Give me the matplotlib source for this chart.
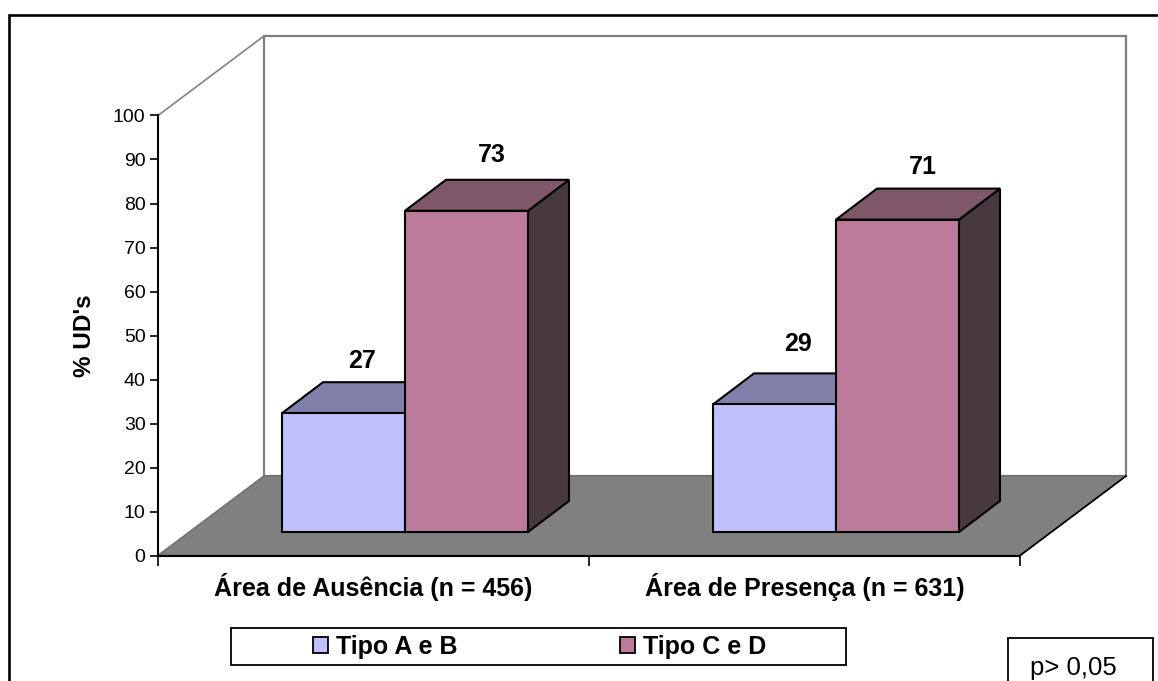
import matplotlib
matplotlib.use('Agg')
import matplotlib.pyplot as plt
from matplotlib.lines import Line2D
from matplotlib.patches import Polygon, Rectangle

plt.rcParams['font.family'] = ['Liberation Sans', 'DejaVu Sans']

categorias = ['Área de Ausência (n = 456)', 'Área de Presença (n = 631)']
tipo_ab = [27, 29]
tipo_cd = [73, 71]
nomes_series = ['Tipo A e B', 'Tipo C e D']
y_ticks = list(range(0, 101, 10))

W, H = 1158, 681
# pixel geometry of the plot box
X0, X1 = 158, 1020
Y0, Y100 = 555.5, 115.5
PX_X = (X1 - X0) / 2
PX_Y = (Y0 - Y100) / 100

# depth of the floor and of the bars, in data units
DX = 106 / PX_X
DY = 79.5 / PX_Y
BAR_DX0 = 31.5 / PX_X
BAR_DY0 = 23.5 / PX_Y
BAR_DX = 41 / PX_X
BAR_DY = 31 / PX_Y
BAR_W = 123 / PX_X
BAR_START = 0.2146

cores_ab = ('#C0C0FF', '#8080AA', '#50506A')
cores_cd = ('#BD7B9B', '#7E5869', '#483840')
CINZA = '#808080'

fig = plt.figure(figsize=(W / 100, H / 100), dpi=100)
ax = fig.add_axes([X0 / W, 1 - Y0 / H, (X1 - X0) / W, (Y0 - Y100) / H])
ax.set_xlim(0, 2)
ax.set_ylim(0, 100)
ax.patch.set_visible(False)


def poly(pts, fc, ec, lw=1.5, z=2):
    ax.add_patch(Polygon(pts, closed=True, facecolor=fc, edgecolor=ec, lw=lw,
                         zorder=z, clip_on=False, joinstyle='miter'))


# back wall, side wall and floor
poly([(DX, DY), (2 + DX, DY), (2 + DX, 100 + DY), (DX, 100 + DY)], 'white', CINZA, 1.6, 1)
ax.plot([0, DX], [100, 100 + DY], color=CINZA, lw=1.2, clip_on=False, zorder=1)
poly([(0, 0), (2, 0), (2 + DX, DY), (DX, DY)], CINZA, '#707070', 1.2, 1.5)
ax.plot([2, 2 + DX], [0, DY], color='black', lw=1.2, clip_on=False, zorder=1.6)


def barra(x, valor, cores, z):
    x0 = x + BAR_DX0
    x1 = x0 + BAR_W
    y0 = BAR_DY0
    y1 = y0 + valor
    poly([(x1, y0), (x1 + BAR_DX, y0 + BAR_DY), (x1 + BAR_DX, y1 + BAR_DY), (x1, y1)], cores[2], 'black', 1.5, z)
    poly([(x0, y1), (x1, y1), (x1 + BAR_DX, y1 + BAR_DY), (x0 + BAR_DX, y1 + BAR_DY)], cores[1], 'black', 1.5, z)
    poly([(x0, y0), (x1, y0), (x1, y1), (x0, y1)], cores[0], 'black', 1.5, z)


# offset of each value label from its bar (px)
desloc_ab = [(19, 52), (24, 60)]
desloc_cd = [(25, 56), (25, 53)]
FONTE_BOLD = 18

for i in range(len(categorias)):
    xa = i + BAR_START
    barra(xa, tipo_ab[i], cores_ab, 3)
    barra(xa + BAR_W, tipo_cd[i], cores_cd, 4)
    dx, dy = desloc_ab[i]
    ax.text(xa + BAR_DX0 + BAR_W / 2 + dx / PX_X, BAR_DY0 + tipo_ab[i] + dy / PX_Y, str(tipo_ab[i]),
            ha='center', va='center', fontsize=FONTE_BOLD, fontweight='bold', zorder=6)
    dx, dy = desloc_cd[i]
    ax.text(xa + BAR_W + BAR_DX0 + BAR_W / 2 + dx / PX_X, BAR_DY0 + tipo_cd[i] + dy / PX_Y, str(tipo_cd[i]),
            ha='center', va='center', fontsize=FONTE_BOLD, fontweight='bold', zorder=6)

for s in ['top', 'right']:
    ax.spines[s].set_visible(False)
for s in ['left', 'bottom']:
    ax.spines[s].set_linewidth(1.5)
    ax.spines[s].set_zorder(5)

ax.set_yticks(y_ticks)
ax.tick_params(axis='y', length=6, width=1.2, labelsize=14, pad=3)
ax.set_xticks([0, 1, 2])
ax.set_xticklabels([])
ax.tick_params(axis='x', length=7, width=1.2)
ax.set_xticks([0.5, 1.5], minor=True)
ax.set_xticklabels(categorias, minor=True, fontsize=FONTE_BOLD, fontweight='bold')
ax.tick_params(axis='x', which='minor', length=0, pad=12.5)
ax.set_ylabel("% UD's", fontsize=17.5, fontweight='bold', labelpad=12)

# outer frame: top and left only, both run off the image
fig.add_artist(Line2D([9 / W, 9 / W, 1], [0, 1 - 15 / H, 1 - 15 / H], transform=fig.transFigure,
                      color='black', lw=1.9, solid_joinstyle='miter'))

# legend box
fig.add_artist(Rectangle((230.5 / W, 1 - 665 / H), 615.5 / W, 37 / H, transform=fig.transFigure,
                         facecolor='white', edgecolor='black', lw=1.3, zorder=3))
handles = [Rectangle((0, 0), 1, 1, facecolor=cores_ab[0], edgecolor='black', lw=1.3),
           Rectangle((0, 0), 1, 1, facecolor=cores_cd[0], edgecolor='black', lw=1.3)]
leg = fig.legend(handles, nomes_series, loc='center', bbox_to_anchor=(540 / W, 1 - 647 / H), ncol=2,
                 frameon=False, prop={'size': FONTE_BOLD, 'weight': 'bold'},
                 handlelength=0.6, handleheight=0.6, handletextpad=0.32, columnspacing=6.5)
leg.set_zorder(4)

# p value box
fig.add_artist(Rectangle((1008 / W, -0.02), 145 / W, 1 - 638 / H + 0.02, transform=fig.transFigure,
                         facecolor='white', edgecolor='black', lw=1.3, zorder=3))
fig.text(1030 / W, 1 - 674.5 / H, 'p> 0,05', ha='left', va='baseline', fontsize=18.5, zorder=4)

fig.savefig('out.png', dpi=100)
